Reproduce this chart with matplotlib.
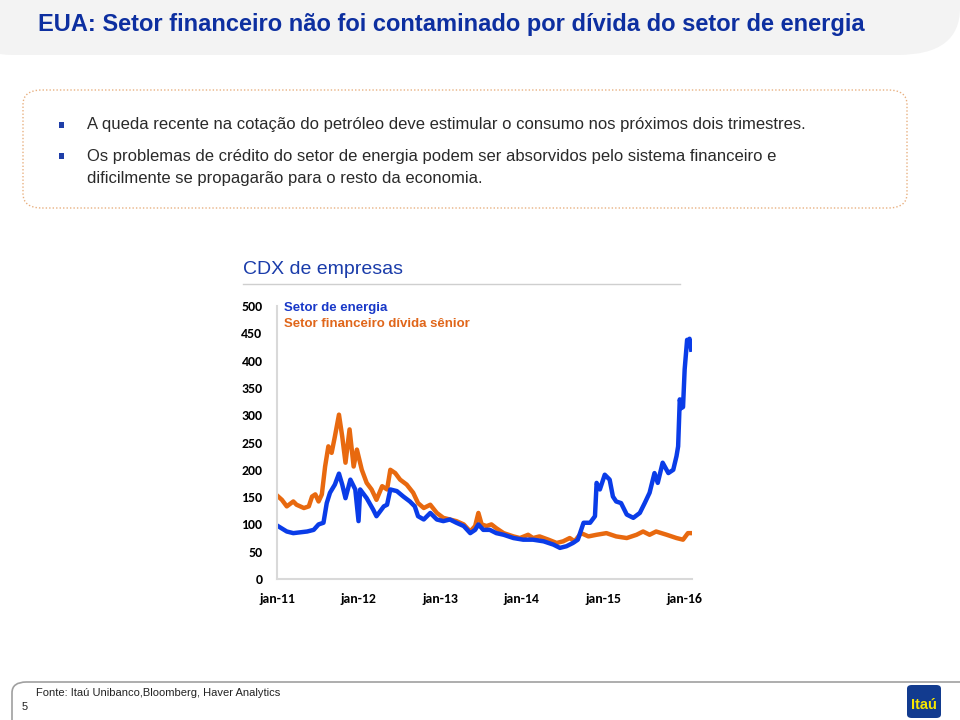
import matplotlib.pyplot as plt
from matplotlib.patches import FancyBboxPatch, Rectangle
from matplotlib.lines import Line2D

plt.rcParams['font.family'] = ['Liberation Sans', 'DejaVu Sans']

# decimal years and spread values (bps)
energy_t = [2011.00, 2011.12, 2011.20, 2011.37, 2011.45, 2011.51, 2011.57, 2011.61,
            2011.65, 2011.71, 2011.76, 2011.80, 2011.84, 2011.90, 2011.96, 2012.00,
            2012.02, 2012.10, 2012.18, 2012.22, 2012.31, 2012.35, 2012.39, 2012.47,
            2012.55, 2012.63, 2012.69, 2012.73, 2012.80, 2012.88, 2012.96, 2013.04,
            2013.12, 2013.20, 2013.29, 2013.37, 2013.43, 2013.47, 2013.53, 2013.61,
            2013.69, 2013.78, 2013.90, 2014.02, 2014.14, 2014.27, 2014.39, 2014.47,
            2014.55, 2014.63, 2014.69, 2014.76, 2014.84, 2014.90, 2014.92, 2014.96,
            2015.02, 2015.08, 2015.12, 2015.16, 2015.22, 2015.29, 2015.37, 2015.45,
            2015.51, 2015.57, 2015.63, 2015.67, 2015.73, 2015.80, 2015.86, 2015.90,
            2015.92, 2015.94, 2015.96, 2015.98, 2016.00, 2016.03, 2016.05, 2016.06,
            2016.08]
energy = [98, 87, 84, 87, 90, 100, 103, 139,
          158, 173, 193, 173, 148, 182, 164, 106,
          164, 148, 127, 115, 133, 136, 164, 161,
          151, 142, 133, 115, 109, 121, 109, 106,
          109, 103, 97, 84, 90, 100, 90, 90,
          84, 81, 75, 72, 72, 69, 63, 57,
          60, 66, 72, 103, 103, 115, 176, 164,
          191, 182, 151, 142, 139, 118, 112, 121,
          139, 158, 194, 176, 213, 194, 200, 225,
          243, 329, 313, 315, 384, 438, 430, 440,
          420]

fin_t = [2011.00, 2011.06, 2011.12, 2011.20, 2011.24, 2011.33, 2011.39, 2011.43,
         2011.47, 2011.51, 2011.55, 2011.59, 2011.63, 2011.67, 2011.71, 2011.76,
         2011.80, 2011.84, 2011.89, 2011.94, 2011.98, 2012.04, 2012.10, 2012.16,
         2012.22, 2012.29, 2012.35, 2012.39, 2012.45, 2012.51, 2012.59, 2012.67,
         2012.73, 2012.80, 2012.88, 2012.96, 2013.04, 2013.12, 2013.20, 2013.29,
         2013.37, 2013.43, 2013.47, 2013.51, 2013.57, 2013.63, 2013.69, 2013.78,
         2013.90, 2013.98, 2014.08, 2014.14, 2014.22, 2014.33, 2014.43, 2014.51,
         2014.59, 2014.65, 2014.73, 2014.82, 2014.92, 2015.04, 2015.16, 2015.29,
         2015.41, 2015.49, 2015.57, 2015.65, 2015.78, 2015.90, 2015.98, 2016.04,
         2016.08]
fin = [153, 145, 133, 142, 136, 130, 133, 151,
       155, 142, 155, 206, 243, 231, 261, 301,
       261, 213, 274, 206, 237, 200, 176, 164,
       145, 170, 164, 200, 194, 182, 173, 158,
       139, 130, 136, 121, 112, 109, 106, 100,
       87, 97, 121, 100, 97, 100, 93, 84,
       78, 75, 81, 75, 78, 72, 66, 69,
       75, 69, 84, 78, 81, 84, 78, 75,
       81, 87, 81, 87, 81, 75, 72, 84,
       84]

year_ticks = [2011, 2012, 2013, 2014, 2015, 2016]
year_labels = ['jan-11', 'jan-12', 'jan-13', 'jan-14', 'jan-15', 'jan-16']
y_ticks = list(range(0, 501, 50))

blue = '#0a3ce8'
orange = '#e8690f'
navy = '#0d2fa0'

fig = plt.figure(figsize=(9.6, 7.2), dpi=100)

# header band
fig.patches.append(FancyBboxPatch((-0.05, 1 - 55 / 720), 1.05, 0.2,
                                  boxstyle='round,pad=0,rounding_size=0.065',
                                  transform=fig.transFigure, fc='#f3f3f3', ec='none'))
fig.text(38 / 960, 1 - 25 / 720, 'EUA: Setor financeiro não foi contaminado por dívida do setor de energia',
         color=navy, fontsize=17, fontweight='bold', va='center', ha='left')

# bullet box
fig.patches.append(FancyBboxPatch((23 / 960, 1 - 208 / 720), 884 / 960, 118 / 720,
                                  boxstyle='round,pad=0,rounding_size=0.02',
                                  transform=fig.transFigure, fc='white', ec='#e8b080',
                                  lw=1.0, ls=(0, (1, 1.5))))
bullets = [(125, 'A queda recente na cotação do petróleo deve estimular o consumo nos próximos dois trimestres.'),
           (156, 'Os problemas de crédito do setor de energia podem ser absorvidos pelo sistema financeiro e')]
for yy, txt in bullets:
    fig.patches.append(Rectangle((59 / 960, 1 - (yy + 3) / 720), 5 / 960, 6 / 720,
                                 transform=fig.transFigure, fc='#1f3ea8', ec='none'))
    fig.text(87 / 960, 1 - yy / 720, txt, fontsize=12, color='#2a2a2a', va='center')
fig.text(87 / 960, 1 - 178 / 720, 'dificilmente se propagarão para o resto da economia.',
         fontsize=12, color='#2a2a2a', va='center')

# chart title
fig.text(243 / 960, 1 - 270 / 720, 'CDX de empresas', fontsize=14, color='#1a3caa', va='center')
fig.lines.append(Line2D([243 / 960, 680 / 960], [1 - 284 / 720, 1 - 284 / 720],
                        transform=fig.transFigure, color='#cfcfcf', lw=1))

ax = fig.add_axes([277 / 960, 1 - 579 / 720, 415 / 960, 273 / 720])
ax.plot(fin_t, fin, color=orange, lw=3.2, solid_joinstyle='round')
ax.plot(energy_t, energy, color=blue, lw=3.2, solid_joinstyle='round')
ax.set_xlim(2011.0, 2016.09)
ax.set_ylim(0, 500)
ax.set_xticks(year_ticks)
ax.set_xticklabels(year_labels)
ax.set_yticks(y_ticks)
ax.tick_params(length=0, labelsize=10)
ax.tick_params(axis='x', pad=10)
ax.tick_params(axis='y', pad=10.5)
for lab in ax.get_xticklabels() + ax.get_yticklabels():
    lab.set_fontweight('bold')
    lab.set_family(['Carlito', 'Liberation Sans', 'DejaVu Sans'])
for s in ['top', 'right']:
    ax.spines[s].set_visible(False)
for s in ['left', 'bottom']:
    ax.spines[s].set_color('#d9d9d9')
    ax.spines[s].set_linewidth(1.5)

fig.text(284 / 960, 1 - 308 / 720, 'Setor de energia', color='#1838c8', fontsize=9.5,
         fontweight='bold', va='center')
fig.text(284 / 960, 1 - 324 / 720, 'Setor financeiro dívida sênior', color='#e0661a', fontsize=9.5,
         fontweight='bold', va='center')

# footer
fig.patches.append(FancyBboxPatch((12 / 960, -0.2), 1.1, 0.2 + 1 - 682 / 720,
                                  boxstyle='round,pad=0,rounding_size=0.015',
                                  transform=fig.transFigure, fc='white', ec='#a0a0a0', lw=1.2))
fig.text(36 / 960, 1 - 693 / 720, 'Fonte: Itaú Unibanco,Bloomberg, Haver Analytics',
         fontsize=8, color='#222222', va='center')
fig.text(22 / 960, 1 - 707 / 720, '5', fontsize=8, color='#222222', va='center')
fig.patches.append(FancyBboxPatch((907 / 960, 1 - 718 / 720), 34 / 960, 33 / 720,
                                  boxstyle='round,pad=0,rounding_size=0.005',
                                  transform=fig.transFigure, fc='#123b8f', ec='none'))
fig.text(924 / 960, 1 - 705 / 720, 'Itaú', color='#f5e600', fontsize=10.5, fontweight='bold',
         ha='center', va='center')

fig.savefig('out.png', dpi=100)
